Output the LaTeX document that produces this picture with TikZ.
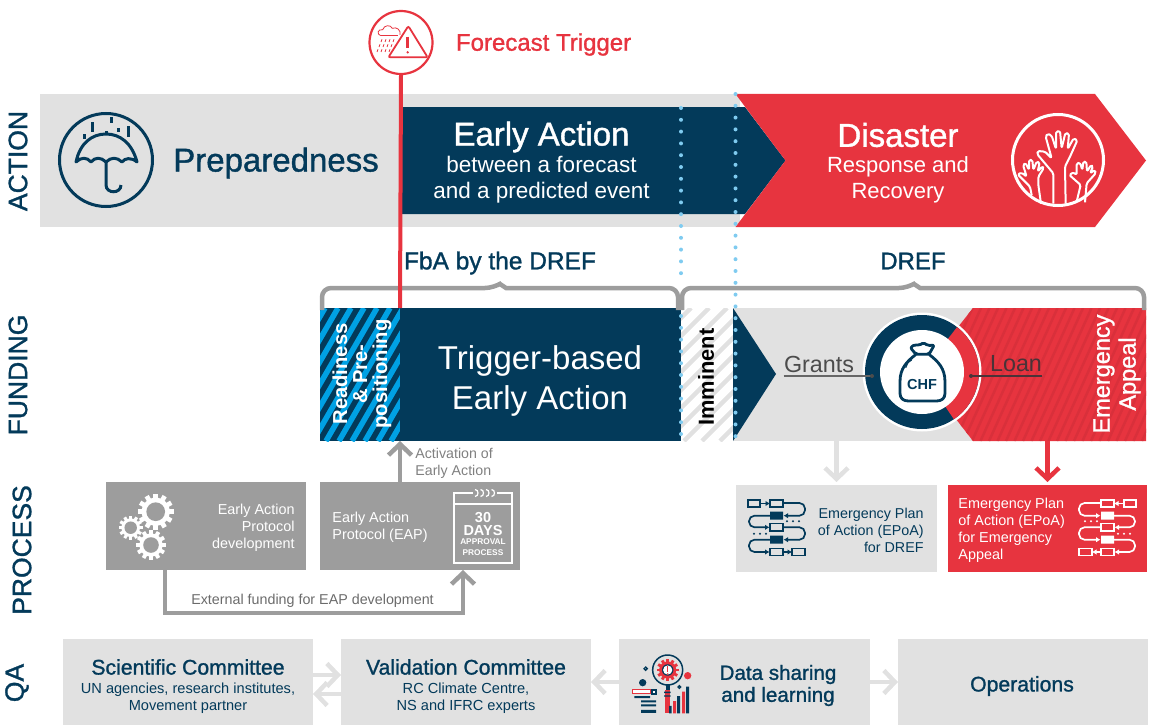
\documentclass[tikz,border=0pt]{standalone}
\usepackage{fontspec}
\setmainfont{Liberation Sans}
\newfontfamily\medfont[FakeBold=1.2]{Liberation Sans}
\usetikzlibrary{positioning,calc,arrows.meta}
\definecolor{navy}{HTML}{033A5A}
\definecolor{redfill}{HTML}{E7343F}
\definecolor{reddark}{HTML}{D9303B}
\definecolor{lightfill}{HTML}{E1E1E1}
\definecolor{midfill}{HTML}{9D9D9D}
\definecolor{hatchblue}{HTML}{00A1E4}
\definecolor{dotblue}{HTML}{7FCBF0}
\definecolor{loantext}{HTML}{4A3338}
\newcommand{\fs}[2]{\fontsize{#1}{#2}\selectfont}
\tikzset{%
	block/.style    = {rectangle, inner sep=0pt, outer sep=0pt},
	lightblock/.style = {block, fill=lightfill},
	midblock/.style = {block, fill=midfill},
	lab/.style      = {inner sep=0pt, text=navy, font=\medfont\fs{26.5}{26.5}, rotate=90},
	qatitle/.style  = {inner sep=0pt, text=navy, align=center, font=\medfont\fs{21.2}{22}},
	qasub/.style    = {inner sep=0pt, text=navy, align=center, font=\fs{14.6}{17}},
	white14/.style  = {inner sep=0pt, text=white, font=\fs{14.4}{17}},
	barb/.style     = {line width=4.5pt, -{Straight Barb[length=11pt,width=23pt]}},
	dots/.style     = {dotblue, line width=4pt, line cap=round, dash pattern=on 0pt off 11.8pt},
	brace/.style    = {midfill, line width=4.5pt, rounded corners=9pt},
	pics/gear/.style n args={3}{code={
		\fill[#2] (0,0) circle ({#1*0.78});
		\foreach \a in {0,30,...,330}
			\fill[#2, rotate=\a] ({#1*0.7},{-#1*0.13}) rectangle ({#1},{#1*0.13});
		\fill[#3] (0,0) circle ({#1*0.52});
	}},
	pics/flowicon/.style={code={
		\draw[#1, line width=1.7pt] (0,1) rectangle (12,8) (22,1) rectangle (35,8)
			(22,24.6) rectangle (35,32) (22,49.5) rectangle (35,56.5) (44,49.5) rectangle (57,56.5);
		\fill[#1] (22,12.5) rectangle (35,20.7) (22,36.5) rectangle (35,44.7);
		\begin{scope}[#1, line width=1.7pt, rounded corners=5.5pt, -{Latex[length=4.5pt,width=5.5pt]}]
			\draw (12,4.5) -- (22,4.5);
			\draw (35,4) -- (57,4) -- (57,16.7) -- (35.5,16.7);
			\draw (22,16.7) -- (1,16.7) -- (1,28.3) -- (21.5,28.3);
			\draw (35,28.3) -- (57,28.3) -- (57,40.7) -- (35.5,40.7);
			\draw (22,40.7) -- (1,40.7) -- (1,53) -- (21.5,53);
			\draw (35,53) -- (44,53);
		\end{scope}
		\foreach \i in {39,45,51} \fill[#1] (\i,22.3) circle (1.1);
		\foreach \i in {6,12,18} \fill[#1] (\i,34.7) circle (1.1);
	}}
}
\begin{document}
\begin{tikzpicture}[thick, x=1pt, y=-1pt, >=stealth]
	\useasboundingbox (0,0) rectangle (1149,725);
	\node[lab] (actionlab) at (18,161) {ACTION};
	\node[lab] (fundinglab) at (18,375) {FUNDING};
	\node[lab] (processlab) at (22,550) {PROCESS};
	\node[lab] (qalab) at (17,683) {QA};

	\node[lightblock, minimum width=700pt, minimum height=133pt] (band) at (390,160.5) {};
	\fill[navy] (402,107) -- (745,107) -- (785.5,160.5) -- (745,214) -- (402,214) -- cycle;
	\fill[redfill] (735.5,94) -- (1095,94) -- (1146,160.5) -- (1095,227) -- (735.5,227) -- (785.5,160.5) -- cycle;

	\node[inner sep=0pt, text=navy, font=\medfont\fs{33}{33}] (prep) at (276,163) {Preparedness};
	\node[inner sep=0pt, text=white, font=\medfont\fs{33}{33}] (early) at (541.5,137) {Early Action};
	\node[inner sep=0pt, text=white, align=center, font=\fs{22.5}{26}] (earlysub) at (541.5,180) {between a forecast\\and a predicted event};
	\node[inner sep=0pt, text=white, font=\medfont\fs{33}{33}] (disaster) at (898,135) {Disaster};
	\node[inner sep=0pt, text=white, align=center, font=\fs{22}{26}] (disastersub) at (898,180) {Response and\\Recovery};

	% umbrella
	\node[circle, draw=navy, line width=3pt, minimum size=93pt, inner sep=0pt] (umbrella) at (106,160) {};
	\begin{scope}[navy, line width=3pt]
		\draw[line join=round] (76,162) .. controls (80,143) and (92,134) .. (106,134) .. controls (120,134) and (132,143) .. (137,162)
			.. controls (131,157) and (125,158) .. (122,162) .. controls (117,157) and (111,157) .. (106,162)
			.. controls (101,157) and (95,157) .. (91,162) .. controls (87,157) and (81,157) .. cycle;
		\draw (106,162) -- (106,185) .. controls (106,194) and (121,194) .. (121,185);
		\draw (106,131) -- (106,134) (92,122) -- (92,132) (111,117) -- (111,123) (128,126) -- (128,137) (118,128) -- (118,132) (84,134) -- (84,139);
	\end{scope}

	% hands
	\node[circle, draw=white, line width=3pt, minimum size=91pt, inner sep=0pt] (hands) at (1058,160) {};
	\begin{scope}[shift={(1005,105)}, x=0.3333pt, y=-0.3333pt, white, line width=2pt, rounded corners=1.5pt, line join=round]
		\draw (145,296) -- (145,205) -- (97,148) -- (98,138) -- (120,140) -- (140,160) -- (122,95) -- (128,86) -- (140,92) -- (153,132)
			-- (153,80) -- (165,78) -- (170,130) -- (181,84) -- (192,86) -- (188,132) -- (206,100) -- (217,106) -- (195,155) -- (180,185) -- (182,296);
		\draw (80,270) -- (75,245) -- (38,208) -- (50,203) -- (65,215) -- (54,180) -- (62,174) -- (72,195) -- (72,165) -- (82,165) -- (85,195)
			-- (95,170) -- (104,172) -- (98,200) -- (112,184) -- (116,190) -- (100,215) -- (100,240) -- (108,296);
		\draw (215,290) -- (227,240) -- (193,210) -- (205,202) -- (215,210) -- (215,175) -- (225,173) -- (232,195) -- (235,170) -- (244,170)
			-- (246,200) -- (258,180) -- (264,185) -- (255,205) -- (270,195) -- (272,205) -- (245,235) -- (240,292);
	\end{scope}

	\node[block, minimum width=80pt, minimum height=133pt] (hatchbox) at (360,374.5) {};
	\fill[navy] (hatchbox.south west) rectangle (hatchbox.north east);
	\begin{scope}
		\clip (hatchbox.south west) rectangle (hatchbox.north east);
		\foreach \i in {0,...,13} \draw[hatchblue, line width=5.5pt] (235+\i*13,441) -- ++(77,-133);
	\end{scope}
	\node[block, fill=navy, minimum width=281pt, minimum height=133pt, right=0pt of hatchbox] (triggerbox) {};
	\node[block, minimum width=52pt, minimum height=133pt, right=0pt of triggerbox] (imminentbox) {};
	\begin{scope}
		\clip (imminentbox.south west) rectangle (imminentbox.north east);
		\foreach \i in {0,...,10} \draw[lightfill, line width=4.5pt] (540+\i*18,441) -- ++(133,-133);
	\end{scope}
	\node[lightblock, minimum width=413pt, minimum height=133pt, right=0pt of imminentbox] (grantbox) {};
	\fill[navy] (733,308) -- (776,374) -- (733,441) -- cycle;
	\fill[redfill] (973,308) -- (921,374) -- (973,441) -- (1146,441) -- (1146,308) -- cycle;
	\begin{scope}
		\clip (973,308) -- (921,374) -- (973,441) -- (1146,441) -- (1146,308) -- cycle;
		\foreach \i in {0,...,33} \draw[reddark, line width=2.5pt] (870+\i*8.5,441) -- ++(60,-133);
	\end{scope}

	\node[inner sep=0pt, text=white, align=center, rotate=90, font=\bfseries\fs{20.2}{20}] (readiness) at (362,374) {Readiness\\\& Pre-\\positioning};
	\node[inner sep=0pt, text=white, align=center, font=\fs{33}{40}] (triggerlab) at (540,380.5) {Trigger-based\\Early Action};
	\node[inner sep=0pt, rotate=90, font=\bfseries\fs{21.8}{22}] (imminent) at (706,377) {Imminent};
	\node[inner sep=0pt, text=white, align=center, rotate=90, font=\medfont\fs{23.5}{26}] (appeal) at (1117,374) {Emergency\\Appeal};

	\node[circle, fill=white, minimum size=119pt, inner sep=0pt] (fundcircle) at (922,372) {};
	\fill[navy] (fundcircle.center) circle (57);
	\fill[redfill] (fundcircle.center) -- ++(-52:57) arc[start angle=-52, end angle=56, radius=57] -- cycle;
	\fill[white] (fundcircle.center) circle (42);
	\begin{scope}[shift={(865,315)}, x=0.3333pt, y=-0.3333pt, navy, line width=2.8pt, line join=round]
		\draw (153,118) .. controls (125,140) and (105,160) .. (105,200) -- (105,235) .. controls (105,250) and (115,258) .. (130,258)
			-- (215,258) .. controls (230,258) and (240,250) .. (240,235) -- (240,200) .. controls (240,160) and (220,140) .. (192,118);
		\draw[rounded corners=2pt] (153,118) -- (136,98) -- (150,88) -- (163,92) -- (175,82) -- (188,92) -- (208,90) -- (192,118) -- cycle;
		\draw[line width=1.2pt] (122,158) .. controls (124,148) and (130,140) .. (140,135);
	\end{scope}
	\node[inner sep=0pt, text=navy, font=\bfseries\fs{14.5}{14.5}] (chf) at (922,385) {CHF};
	\node[inner sep=0pt, text=black!70, font=\fs{23.3}{23.3}] (grants) at (819,364) {Grants};
	\node[inner sep=0pt, text=loantext, font=\fs{23.3}{23.3}] (loan) at (1016,364) {Loan};
	\coordinate (grantsdot) at (872,376);
	\coordinate (loandot) at (971,376);
	\draw[black!60, line width=1.5pt] (grants.west |- grantsdot) -- (grantsdot);
	\draw[loantext, line width=1.5pt] (loan.east |- loandot) -- (loandot);
	\fill[black!70] (grantsdot) circle (2);
	\fill[loantext] (loandot) circle (2);

	\node[inner sep=0pt, text=navy, font=\medfont\fs{24.5}{25}] (fba) at (500,263) {FbA by the DREF};
	\node[inner sep=0pt, text=navy, font=\medfont\fs{24}{24}] (dref) at (913,261) {DREF};
	\draw[brace] (322,310) -- (322,288) -- (494,288) [sharp corners] -- (500,284) -- (506,288) [rounded corners=9pt] -- (678,288) -- (678,310);
	\draw[brace] (682,310) -- (682,288) -- (908,288) [sharp corners] -- (914,284) -- (920,288) [rounded corners=9pt] -- (1144,288) -- (1144,310);

	% trigger
	\node[circle, draw=redfill, fill=white, line width=2.2pt, minimum size=63pt, inner sep=0pt] (trigger) at (401,42.5) {};
	\node[inner sep=0pt, right=22pt of trigger, yshift=-2pt, text=redfill, font=\medfont\fs{24}{25}] (triggertext) {Forecast Trigger};
	\draw[redfill, line width=4pt] (trigger.south) -- (hatchbox.north east);
	\begin{scope}[shift={(360,5)}, x=0.3333pt, y=-0.3333pt, redfill, line width=0.8pt]
		\draw (62,92) .. controls (50,88) and (52,72) .. (68,74) .. controls (72,60) and (92,58) .. (97,70) .. controls (110,64) and (124,76) .. (120,90);
		\draw (62,92) -- (115,92);
		\foreach \i in {66,78,90,102} \draw (\i,103) -- ++(-3,8);
		\foreach \i in {60,72,84,96} \draw (\i,118) -- ++(-3,8);
		\foreach \i in {54,66,78,90} \draw (\i,133) -- ++(-3,8);
		\draw[fill=white, line width=1.8pt, rounded corners=2pt] (145,63) -- (203,157) -- (85,157) -- cycle;
		\draw[line width=2.7pt] (143,95) -- (143,128);
		\fill (143,142) circle (4);
	\end{scope}

	\coordinate (dottopa) at (681,108);
	\coordinate (dotmida) at (681,283);
	\coordinate (dotlowa) at (681,316);
	\coordinate (dotbota) at (681,441);
	\coordinate (dottopb) at (735.5,94);
	\coordinate (dotbotb) at (735.5,441);
	\draw[dots] (dottopa) -- (dotmida);
	\draw[dots] (dotlowa) -- (dotbota);
	\draw[dots] (dottopb) -- (dotbotb);

	% process row
	\node[midblock, minimum width=200pt, minimum height=88pt] (gearbox) at (206,526) {};
	\node[midblock, minimum width=200pt, minimum height=88pt, right=14pt of gearbox] (eapbox) {};
	\pic at (155.7,511.7) {gear={18}{white}{midfill}};
	\pic at (130.7,527.7) {gear={12}{white}{midfill}};
	\pic at (151,545) {gear={15}{white}{midfill}};
	\node[white14, align=right, anchor=east] (geartext) at (295,528) {Early Action\\Protocol\\development};
	\node[white14, align=left, anchor=west] (eaptext) at (332,527) {Early Action\\Protocol (EAP)};
	\begin{scope}[white, line width=1.6pt]
		\draw (454,504) rectangle (512,563);
		\draw (454,504) -- (454,493) -- (473,493) (497,493) -- (512,493) -- (512,504);
		\foreach \i in {475,480.5,486,491.5} \draw[line width=1.2pt] (\i,489.5) .. controls (\i+4,489.5) and (\i+4,496.5) .. (\i,496.5);
	\end{scope}
	\node[inner sep=0pt, text=white, align=center, font=\bfseries\fs{14.5}{13.5}] (days) at (483,524) {30\\DAYS};
	\node[inner sep=0pt, text=white, align=center, font=\bfseries\fs{8.3}{11}] (approval) at (483,547.5) {APPROVAL\\PROCESS};

	\draw[barb, midfill] (eapbox.north -| hatchbox.south east) -- (hatchbox.south east);
	\node[inner sep=0pt, text=black!50, align=left, anchor=north west, font=\fs{14.2}{17}] (activation) at (415,448) {Activation of\\Early Action};
	\draw[barb, midfill] ([xshift=-41pt]gearbox.south) -- ++(0,43) -| ([xshift=43pt]eapbox.south);
	\node[inner sep=0pt, text=black!58, font=\fs{14.3}{15}] (external) at (312.5,601) {External funding for EAP development};

	\node[lightblock, minimum width=201pt, minimum height=87pt] (epoa) at (836.5,528.5) {};
	\node[block, fill=redfill, minimum width=199pt, minimum height=87pt, right=11pt of epoa] (epoared) {};
	\draw[barb, lightfill, shorten >=3pt] (epoa.north |- grantbox.south) -- (epoa.north);
	\draw[barb, redfill, shorten >=3pt] (epoared.north |- grantbox.south) -- (epoared.north);
	\node[inner sep=0pt, text=navy, align=right, anchor=east, font=\fs{14.3}{17}] (epoatext) at (924,530) {Emergency Plan\\of Action (EPoA)\\for DREF};
	\node[white14, align=left, anchor=west] (epoaredtext) at (958,530.5) {Emergency Plan\\of Action (EPoA)\\for Emergency\\Appeal};
	\pic at (748,499) {flowicon=navy};
	\pic[xscale=-1] at (1136,499) {flowicon=white};

	% qa row
	\node[lightblock, minimum width=250pt, minimum height=86pt] (scientific) at (188,682) {};
	\node[lightblock, minimum width=250pt, minimum height=86pt, right=28pt of scientific] (validation) {};
	\node[lightblock, minimum width=251pt, minimum height=86pt, right=28pt of validation] (datashare) {};
	\node[lightblock, minimum width=250pt, minimum height=86pt, right=28pt of datashare] (operations) {};
	\draw[barb, lightfill] ([yshift=7pt]scientific.east) -- ([yshift=7pt]validation.west);
	\draw[barb, lightfill] ([yshift=-12pt]validation.west) -- ([yshift=-12pt]scientific.east);
	\draw[barb, lightfill] (datashare.west) -- (validation.east);
	\draw[barb, lightfill] (datashare.east) -- (operations.west);
	\node[qatitle] (scititle) at (188,667) {Scientific Committee};
	\node[qasub] (scisub) at (188,698) {UN agencies, research institutes,\\Movement partner};
	\node[qatitle] (valtitle) at (466,667) {Validation Committee};
	\node[qasub] (valsub) at (466,698) {RC Climate Centre,\\NS and IFRC experts};
	\node[qatitle, font=\medfont\fs{20.6}{22}] (datatext) at (778,685.5) {Data sharing\\and learning};
	\node[qatitle] (opstext) at (1022,686) {Operations};
	\begin{scope}[shift={(625,645)}, x=0.3333pt, y=-0.3333pt]
		\fill[navy] (122,118) rectangle (134,136);
		\fill[redfill] (120,135) rectangle (134,205);
		\fill[navy] (117,140) rectangle (137,144) (117,151) rectangle (137,155);
		\fill[navy] (132,183) rectangle (140,205) (156,153) rectangle (165,205) (183,125) rectangle (192,205);
		\fill[redfill] (144,168) rectangle (153,205) (171,140) rectangle (180,205);
		\fill[redfill] (188,92) circle (11);
		\fill[navy] (53,113) circle (11);
		\draw[navy, line width=1.3pt] (62,71) circle (5) (163,126) circle (4);
		\draw[redfill, fill=white, line width=1.5pt] (23,134) rectangle (78,146);
		\draw[navy, fill=white, line width=2pt] (80,134) rectangle (92,146);
		\fill[navy] (28,153) rectangle (75,159) (48,166) rectangle (93,172) (48,178) rectangle (93,184) (48,195) rectangle (93,204);
		\draw[navy, line width=1.5pt] (128,75) circle (45);
	\end{scope}
	\pic at (667.7,670) {gear={11}{redfill}{navy}};
	\fill[white] (667.7,670) circle (4.6);
	\draw[redfill, line width=1.5pt] (667.7,665.5) -- (667.7,671.5);
	\fill[redfill] (667.7,674) circle (0.9);
\end{tikzpicture}
\end{document}
